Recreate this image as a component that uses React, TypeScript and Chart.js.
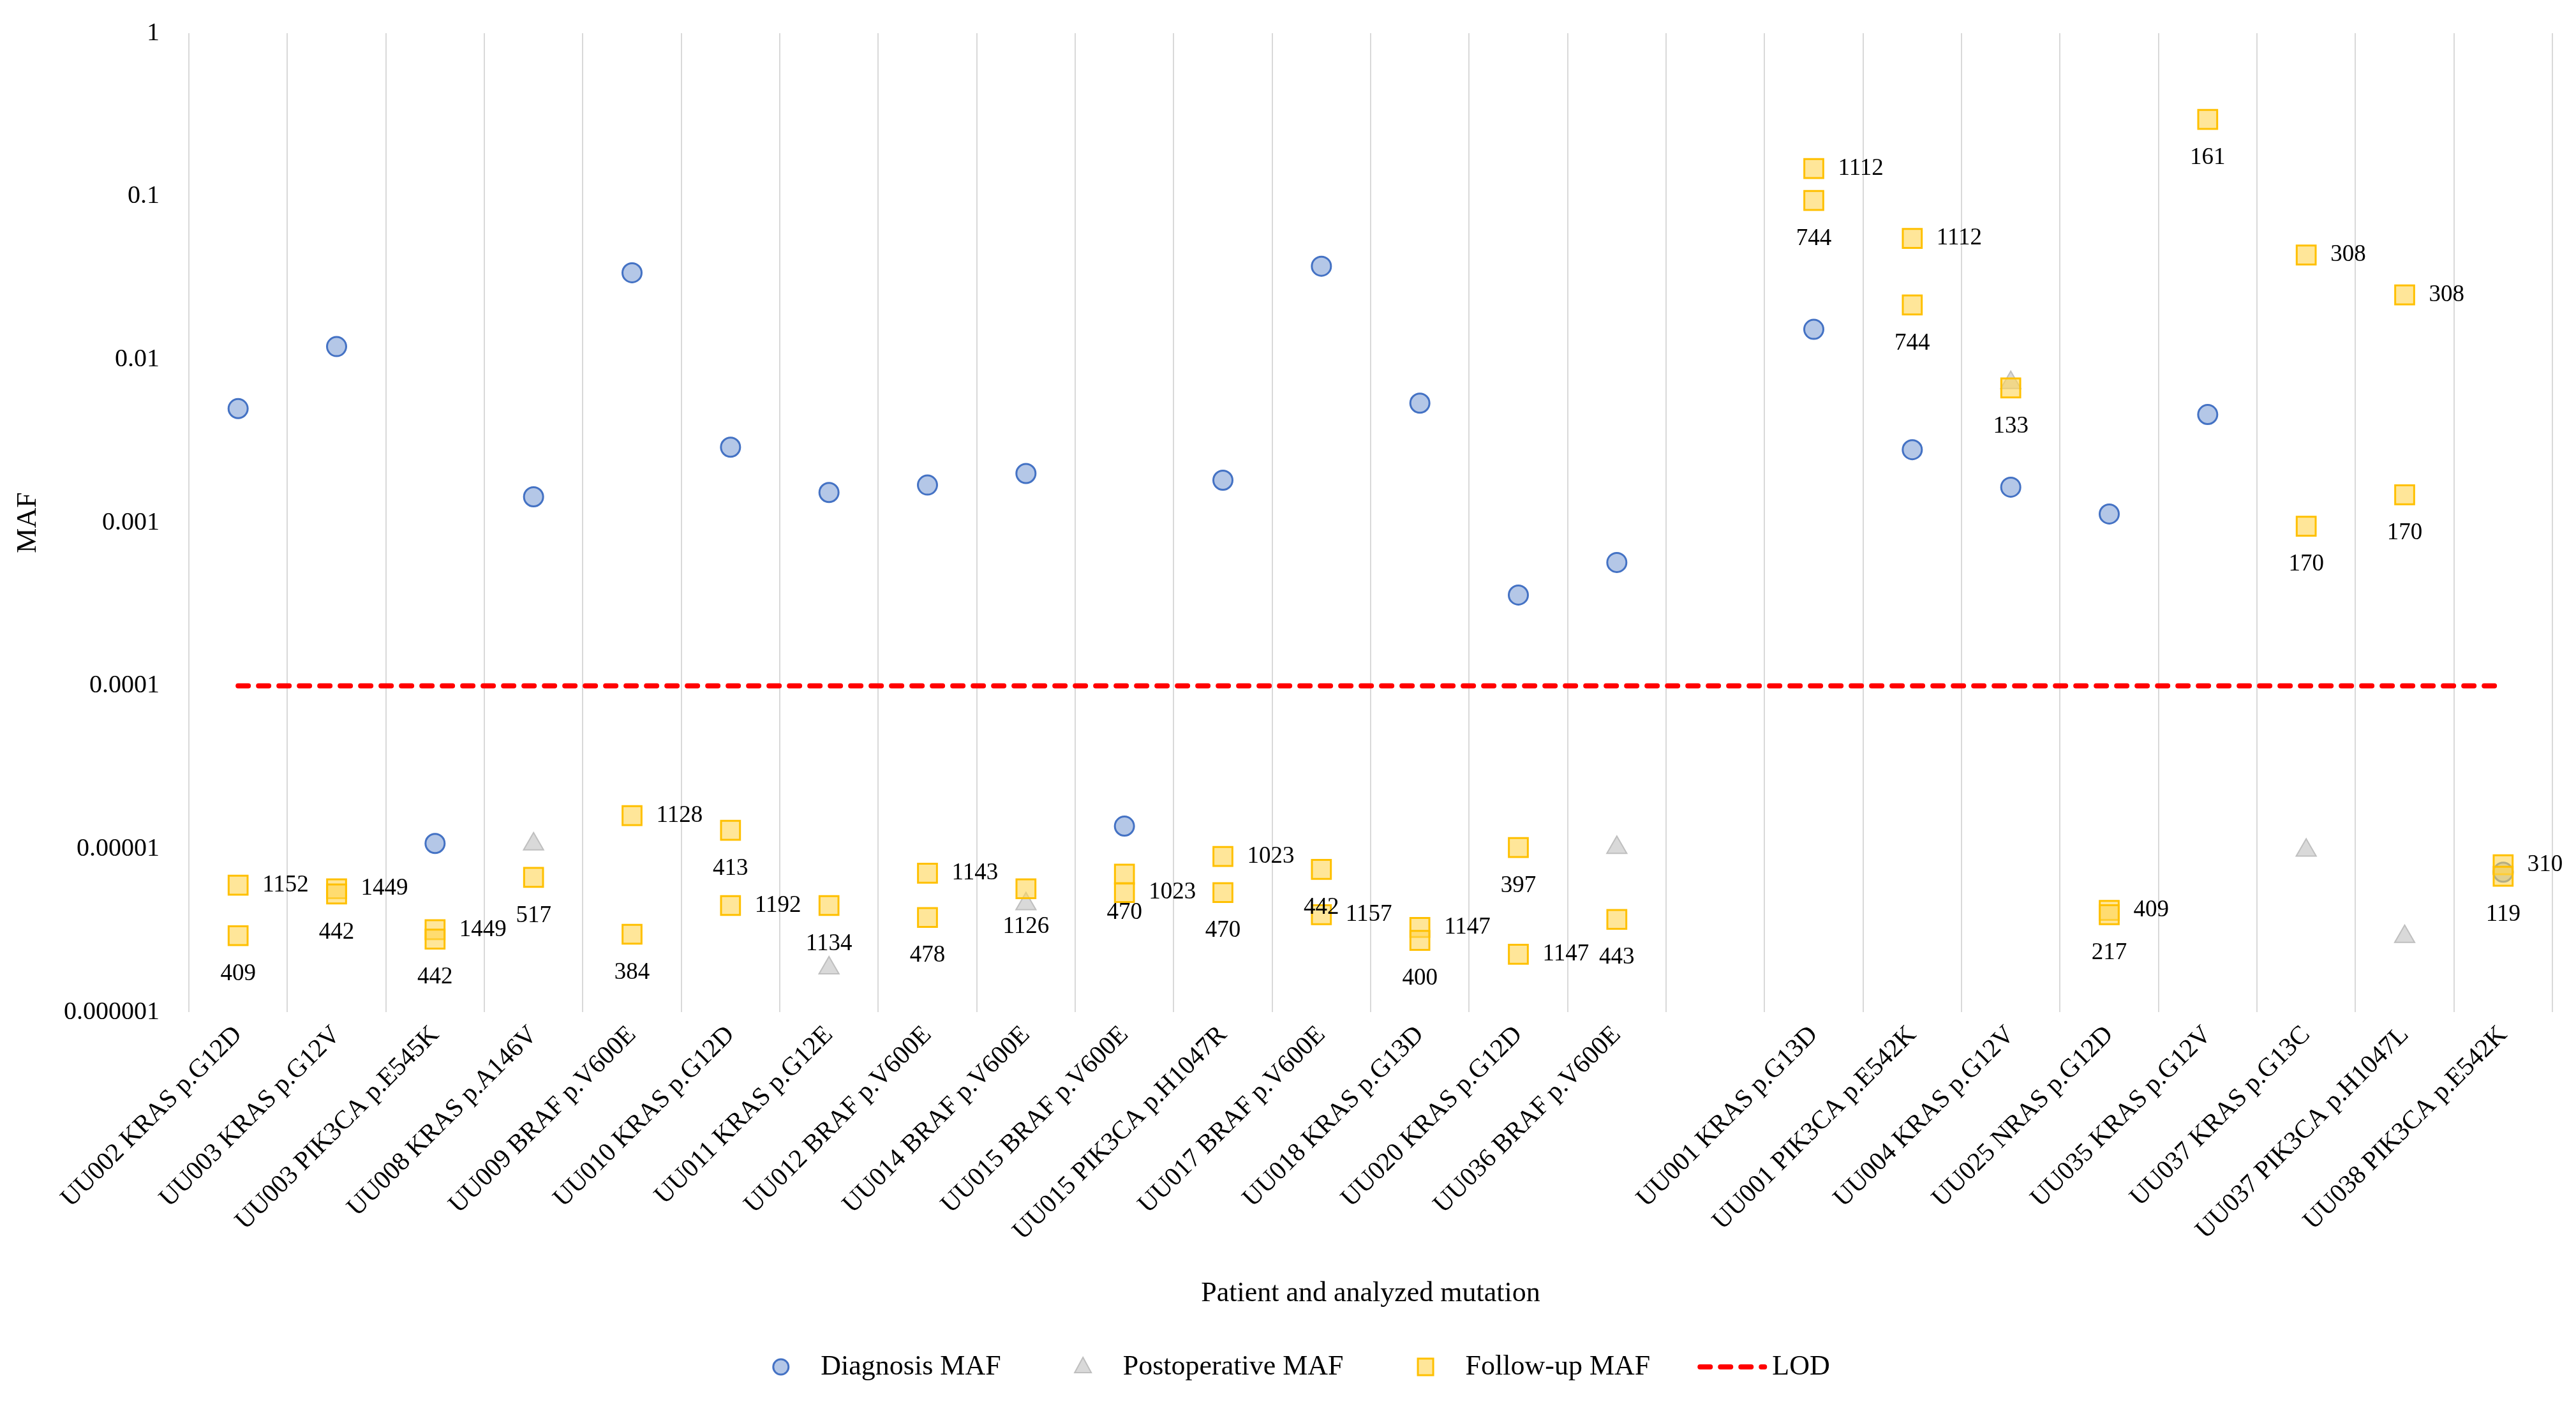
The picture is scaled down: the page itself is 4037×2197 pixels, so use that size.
import React, { useEffect, useRef } from 'react';
import { Chart, registerables } from 'chart.js';

Chart.register(...registerables);

const categories = [
  'UU002 KRAS p.G12D', 'UU003 KRAS p.G12V', 'UU003 PIK3CA p.E545K', 'UU008 KRAS p.A146V',
  'UU009 BRAF p.V600E', 'UU010 KRAS p.G12D', 'UU011 KRAS p.G12E', 'UU012 BRAF p.V600E',
  'UU014 BRAF p.V600E', 'UU015 BRAF p.V600E', 'UU015 PIK3CA p.H1047R', 'UU017 BRAF p.V600E',
  'UU018 KRAS p.G13D', 'UU020 KRAS p.G12D', 'UU036 BRAF p.V600E', '',
  'UU001 KRAS p.G13D', 'UU001 PIK3CA p.E542K', 'UU004 KRAS p.G12V', 'UU025 NRAS p.G12D',
  'UU035 KRAS p.G12V', 'UU037 KRAS p.G13C', 'UU037 PIK3CA p.H1047L', 'UU038 PIK3CA p.E542K',
];

const diagnosisMAF = [
  0.005, 0.012, 0.0000108, 0.00144, 0.034, 0.0029, 0.00153, 0.0017,
  0.002, 0.0000138, 0.00182, 0.0373, 0.0054, 0.00036, 0.00057, null,
  0.0153, 0.0028, 0.00165, 0.00113, 0.0046, null, null, 0.0000072,
];

const postoperativeMAF = [
  null, null, null, 0.0000107, null, null, 0.00000186, null,
  0.0000046, null, null, null, null, null, 0.0000102, null,
  null, null, 0.0072, null, null, 0.0000098, 0.0000029, null,
];

const followUpCategory = [
  0, 0, 1, 1, 2, 2, 3, 4, 4, 5, 5, 6, 7, 7, 8, 9, 9, 10, 10, 11,
  11, 12, 12, 13, 13, 14, 16, 16, 17, 17, 18, 19, 19, 20, 21, 21, 22, 22, 23, 23,
];
const followUpMAF = [
  0.000006, 0.00000294, 0.0000057, 0.0000053, 0.0000032, 0.0000028, 0.0000067, 0.000016,
  0.000003, 0.000013, 0.0000045, 0.0000045, 0.0000071, 0.0000038, 0.0000057, 0.000007,
  0.0000054, 0.000009, 0.0000054, 0.0000075, 0.00000395, 0.0000033, 0.00000275, 0.0000102,
  0.00000226, 0.0000037, 0.148, 0.0944, 0.0552, 0.0216, 0.0067, 0.0000042,
  0.00000395, 0.296, 0.0437, 0.00095, 0.0249, 0.00148, 0.000008, 0.0000068,
];
const followUpDay = [
  1152, 409, 1449, 442, 1449, 442, 517, 1128, 384, 413, 1192, 1134, 1143, 478, 1126, 470,
  1023, 1023, 470, 442, 1157, 1147, 400, 397, 1147, 443, 1112, 744, 1112, 744, 133, 409,
  217, 161, 308, 170, 308, 170, 310, 119,
];
// where each day label sits relative to its marker: r = right, b = below
const followUpLabelSide = [
  'r', 'b', 'r', 'b', 'r', 'b', 'b', 'r', 'b', 'b', 'r', 'b', 'r', 'b', 'b', 'b',
  'r', 'r', 'b', 'b', 'r', 'r', 'b', 'b', 'r', 'b', 'r', 'b', 'r', 'b', 'b', 'r',
  'b', 'b', 'r', 'b', 'r', 'b', 'r', 'b',
];

const lodValue = 0.0001;
const yTickValues = [0.000001, 0.00001, 0.0001, 0.001, 0.01, 0.1, 1];
const yTickLabels = ['0.000001', '0.00001', '0.0001', '0.001', '0.01', '0.1', '1'];

const FONT = '"Liberation Serif", "Times New Roman", serif';

const dayLabelPlugin = {
  id: 'dayLabels',
  afterDatasetsDraw(chart: any) {
    const dsIndex = chart.data.datasets.findIndex((d: any) => d.label === 'Follow-up MAF');
    const meta = chart.getDatasetMeta(dsIndex);
    const ctx = chart.ctx;
    ctx.save();
    ctx.font = `37px ${FONT}`;
    ctx.fillStyle = '#000000';
    ctx.textBaseline = 'middle';
    meta.data.forEach((pt: any, i: number) => {
      const text = String(followUpDay[i]);
      if (followUpLabelSide[i] === 'r') {
        ctx.textAlign = 'left';
        ctx.fillText(text, pt.x + 38, pt.y);
      } else {
        ctx.textAlign = 'center';
        ctx.fillText(text, pt.x, pt.y + 60);
      }
    });
    ctx.restore();
  },
};

const legendPlugin = {
  id: 'customLegend',
  afterDraw(chart: any) {
    const ctx = chart.ctx;
    const ds = chart.data.datasets;
    const boxW = 109;
    const textGap = 8;
    const itemGap = 74;
    const y = 2142;
    ctx.save();
    ctx.font = `44px ${FONT}`;
    const widths = ds.map((d: any) => ctx.measureText(d.label).width);
    const total = widths.reduce((a: number, w: number) => a + boxW + textGap + w, 0) + itemGap * (ds.length - 1);
    let x = chart.width / 2 - total / 2;
    ds.forEach((d: any, i: number) => {
      const cx = x + boxW / 2;
      ctx.save();
      ctx.lineWidth = d.borderWidth;
      ctx.strokeStyle = d.borderColor;
      ctx.fillStyle = d.backgroundColor;
      if (d.pointStyle === 'circle') {
        ctx.beginPath();
        ctx.arc(cx, y, 12, 0, Math.PI * 2);
        ctx.fill();
        ctx.stroke();
      } else if (d.pointStyle === 'triangle') {
        ctx.beginPath();
        ctx.moveTo(cx, y - 15);
        ctx.lineTo(cx + 13, y + 9);
        ctx.lineTo(cx - 13, y + 9);
        ctx.closePath();
        ctx.fill();
        ctx.stroke();
      } else if (d.pointStyle === 'rect') {
        ctx.beginPath();
        ctx.rect(cx - 12, y - 13, 24, 26);
        ctx.fill();
        ctx.stroke();
      } else {
        ctx.lineCap = d.borderCapStyle;
        ctx.setLineDash(d.borderDash);
        ctx.beginPath();
        ctx.moveTo(x + 4, y);
        ctx.lineTo(x + boxW - 4, y);
        ctx.stroke();
      }
      ctx.restore();
      ctx.fillStyle = '#000000';
      ctx.textAlign = 'left';
      ctx.textBaseline = 'middle';
      ctx.fillText(d.label, x + boxW + textGap, y);
      x += boxW + textGap + widths[i] + itemGap;
    });
    ctx.restore();
  },
};

export default function App() {
  const canvasRef = useRef<HTMLCanvasElement | null>(null);

  useEffect(() => {
    if (!canvasRef.current) return;
    const followUpPoints = followUpMAF.map((v, i) => ({ x: categories[followUpCategory[i]], y: v }));
    const chart = new Chart(canvasRef.current, {
      type: 'line',
      data: {
        labels: categories,
        datasets: [
          {
            label: 'Diagnosis MAF',
            data: diagnosisMAF,
            showLine: false,
            pointStyle: 'circle',
            pointRadius: 15,
            pointHoverRadius: 15,
            backgroundColor: '#B4C7E7',
            borderColor: '#4472C4',
            borderWidth: 3,
            order: 3,
          },
          {
            label: 'Postoperative MAF',
            data: postoperativeMAF,
            showLine: false,
            pointStyle: 'triangle',
            pointRadius: 18,
            pointHoverRadius: 18,
            backgroundColor: '#D9D9D9',
            borderColor: '#BFBFBF',
            borderWidth: 2,
            order: 2,
          },
          {
            label: 'Follow-up MAF',
            data: followUpPoints as any,
            showLine: false,
            pointStyle: 'rect',
            pointRadius: 21,
            pointHoverRadius: 21,
            backgroundColor: 'rgba(255, 213, 85, 0.6)',
            borderColor: '#FFC000',
            borderWidth: 3,
            order: 1,
          },
          {
            label: 'LOD',
            data: categories.map(() => lodValue),
            showLine: true,
            pointRadius: 0,
            pointHoverRadius: 0,
            pointStyle: 'line',
            borderColor: '#FF0000',
            backgroundColor: '#FF0000',
            borderWidth: 8,
            borderDash: [16, 16],
            borderCapStyle: 'round',
            fill: false,
            order: 0,
          },
        ] as any,
      },
      options: {
        animation: false,
        responsive: true,
        maintainAspectRatio: false,
        devicePixelRatio: 1,
        layout: { padding: { top: 52, right: 37, bottom: 143, left: 0 } },
        plugins: {
          legend: { display: false },
          tooltip: { enabled: false },
        },
        scales: {
          x: {
            type: 'category',
            offset: true,
            grid: { display: true, offset: true, color: '#D9D9D9', lineWidth: 2, drawTicks: false },
            border: { display: false },
            ticks: {
              autoSkip: false,
              minRotation: 45,
              maxRotation: 45,
              padding: 12,
              color: '#000000',
              font: { family: FONT, size: 41 },
            },
            title: {
              display: true,
              text: 'Patient and analyzed mutation',
              color: '#000000',
              font: { family: FONT, size: 44 },
              padding: { top: 0, bottom: 0 },
            },
            afterFit: (scale: any) => { scale.height = 468; },
          },
          y: {
            type: 'logarithmic',
            min: 0.000001,
            max: 1,
            grid: { display: false, drawTicks: false },
            border: { display: false },
            afterBuildTicks: (scale: any) => {
              scale.ticks = yTickValues.map((v) => ({ value: v }));
            },
            ticks: {
              padding: 46,
              color: '#000000',
              font: { family: FONT, size: 40 },
              callback: (_v: any, index: number) => yTickLabels[index],
            },
            title: {
              display: true,
              text: 'MAF',
              color: '#000000',
              font: { family: FONT, size: 44 },
              padding: { top: 18, bottom: 0 },
            },
            afterFit: (scale: any) => {
              scale.width = 296;
              scale.paddingTop = 0;
              scale.paddingBottom = 0;
            },
          },
        },
      } as any,
      plugins: [dayLabelPlugin, legendPlugin],
    });
    return () => chart.destroy();
  }, []);

  return (
    <div style={{ position: 'fixed', left: 0, top: 0, width: 4037, height: 2197, background: '#ffffff' }}>
      <canvas ref={canvasRef} />
    </div>
  );
}
